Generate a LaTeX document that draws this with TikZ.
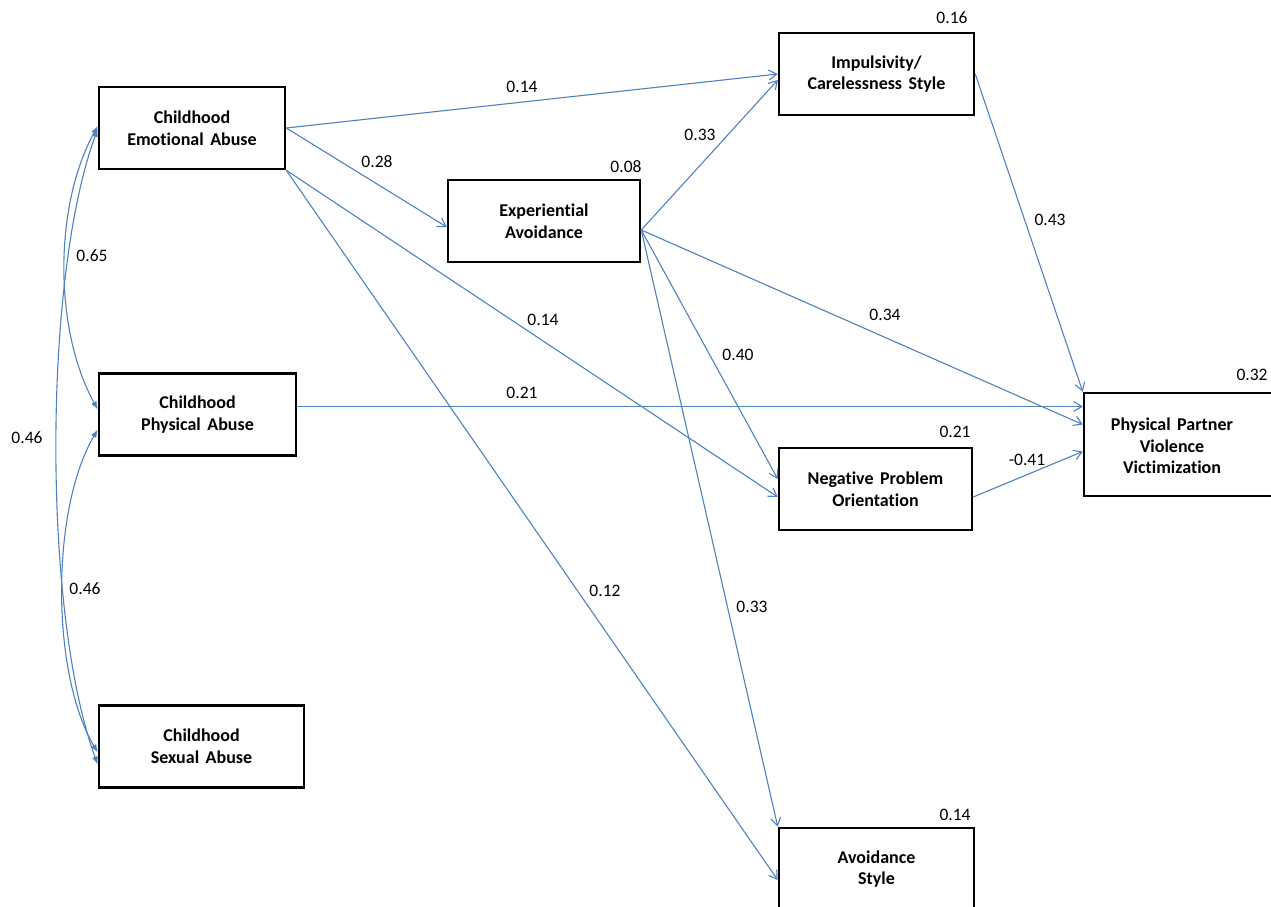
\documentclass[tikz,border=0pt]{standalone}
\usepackage{fontspec}
\setmainfont{Carlito}[Ligatures=CommonOff, WordSpace=1.6]
\usetikzlibrary{arrows.meta,calc}
\definecolor{pathblue}{RGB}{79,129,189}
\begin{document}
\begin{tikzpicture}[x=1pt,y=-1pt,
	varbox/.style={draw, line width=2.5pt, inner sep=0pt, minimum height=82pt, align=center, font=\fontsize{18}{21.7}\selectfont\bfseries},
	vartext/.style={inner sep=0pt, align=center, font=\fontsize{18}{21.7}\selectfont\bfseries},
	effect/.style={pathblue, line width=1.1pt, -{Straight Barb[length=8pt,width=10pt]}},
	corr/.style={pathblue, line width=1.1pt, {Latex[length=8pt,width=6pt]}-{Latex[length=8pt,width=6pt]}},
	coef/.style={inner sep=1pt, font=\fontsize{17.5}{20}\selectfont}]
	\useasboundingbox (0,0) rectangle (1271,907);
	\node[varbox, minimum width=186pt] (cea) at (192,128) {Childhood\\Emotional Abuse};
	\node[varbox, minimum width=197pt] (cpa) at (197.5,414.5) {Childhood\\Physical Abuse};
	\node[varbox, minimum width=205pt] (csa) at (201.5,746.5) {Childhood\\Sexual Abuse};
	\node[varbox, minimum width=192pt] (ea) at (544,221) {Experiential\\Avoidance};
	\node[varbox, minimum width=195pt] (ic) at (876.5,74) {Impulsivity/\\Carelessness Style};
	\node[varbox, minimum width=193pt] (npo) at (875.5,489) {Negative Problem\\Orientation};
	\node[varbox, minimum width=195pt] (as) at (876.5,869) {Avoidance\\Style};
	\node[varbox, minimum width=218pt, minimum height=103pt] (ppv) at (1193,444.5) {};
	\node[vartext] (ppvtext) at (1172,446) {Physical Partner\\Violence\\Victimization};
	\coordinate (eaout) at ($(ea.east)+(0,9)$);
	\draw[effect] (cea.east) -- (ic.west);
	\draw[effect] (cea.east) -- ($(ea.west)+(0,6)$);
	\draw[effect] (cea.south east) -- ($(npo.west)+(0,8)$);
	\draw[effect] (cea.south east) -- ($(as.west)+(0,11)$);
	\draw[effect] ($(cpa.east)+(0,-8)$) -- ($(ppv.west)+(0,-38)$);
	\draw[effect] (eaout) -- ($(ic.west)+(0,6)$);
	\draw[effect] (eaout) -- ($(ppv.west)+(0,-20)$);
	\draw[effect] (eaout) -- ($(npo.west)+(0,-10)$);
	\draw[effect] (eaout) -- (as.north west);
	\draw[effect] (ic.east) -- (ppv.north west);
	\draw[effect] ($(npo.east)+(0,8)$) -- ($(ppv.west)+(0,7)$);
	\draw[corr] ($(cea.west)+(0,-2)$) .. controls +(-44,80) and +(-44,-80) .. ($(cpa.west)+(0,-5)$);
	\draw[corr] ($(cpa.west)+(0,15)$) .. controls +(-47,80) and +(-47,-80) .. ($(csa.west)+(0,6)$);
	\draw[corr] ($(cea.west)+(0,1)$) .. controls +(-55,150) and +(-55,-150) .. ($(csa.west)+(0,18)$);
	\node[coef] (c1) at (522,87) {0.14};
	\node[coef] (c2) at (377,162) {0.28};
	\node[coef] (c3) at (543,320) {0.14};
	\node[coef] (c4) at (605,591) {0.12};
	\node[coef] (c5) at (522,393) {0.21};
	\node[coef] (c6) at (700,135) {0.33};
	\node[coef] (c7) at (885,315) {0.34};
	\node[coef] (c8) at (738,355) {0.40};
	\node[coef] (c9) at (752,607) {0.33};
	\node[coef] (c10) at (1050,220) {0.43};
	\node[coef] (c11) at (1027,460) {-0.41};
	\node[coef] (r1) at (92,256) {0.65};
	\node[coef] (r2) at (85,589) {0.46};
	\node[coef] (r3) at (27,438) {0.46};
	\node[coef] (s1) at (952,18) {0.16};
	\node[coef] (s2) at (626,167) {0.08};
	\node[coef] (s3) at (1252,375) {0.32};
	\node[coef] (s4) at (955,432) {0.21};
	\node[coef] (s5) at (955,815) {0.14};
\end{tikzpicture}
\end{document}
